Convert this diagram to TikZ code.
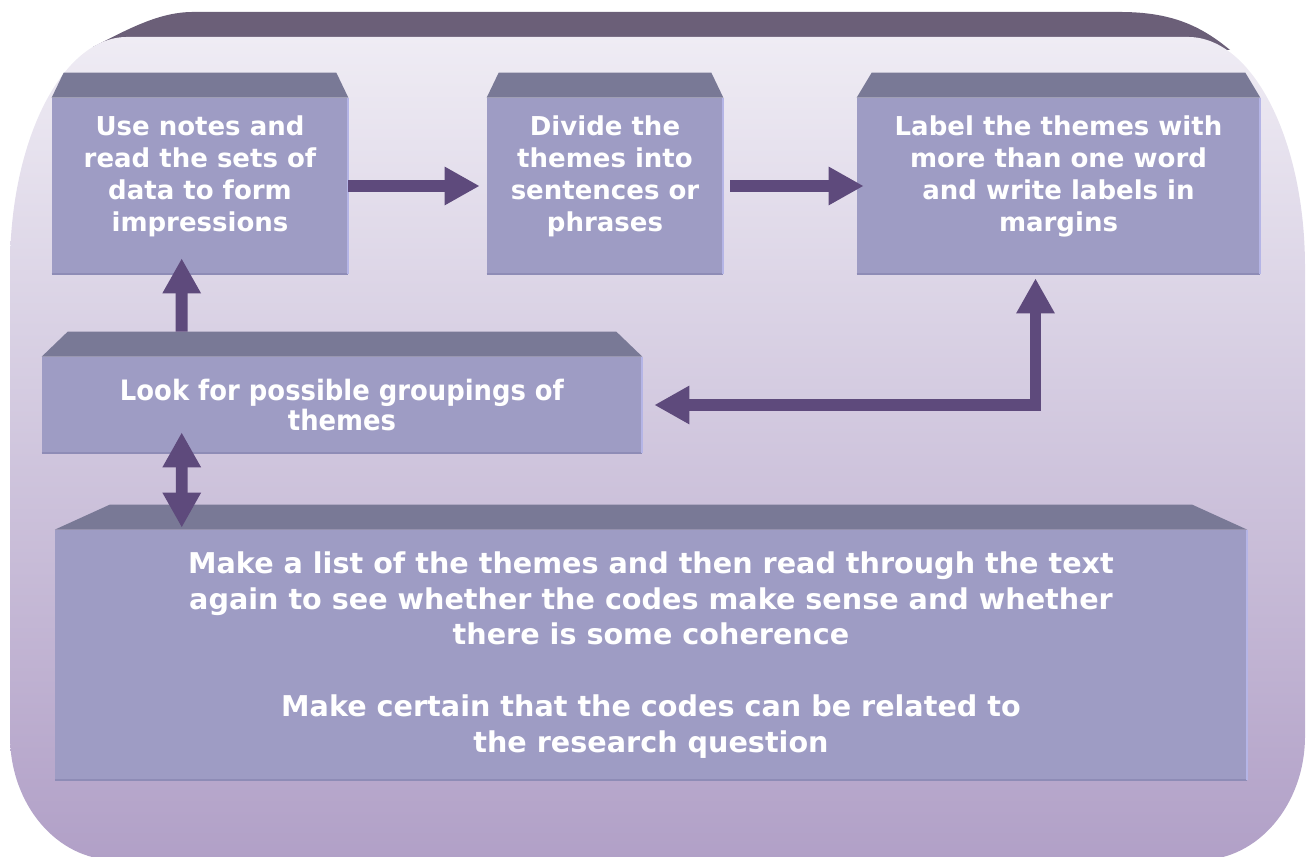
\documentclass[tikz,border=0pt]{standalone}
\usepackage{fontspec}
\setmainfont{DejaVu Sans}
\newfontfamily\narrowfont{DejaVu Sans}[FakeStretch=0.92]
\usetikzlibrary{positioning,calc,arrows.meta}

\definecolor{bandcol}{HTML}{6B5F78}
\definecolor{facecol}{HTML}{9E9CC4}
\definecolor{bevelcol}{HTML}{797996}
\definecolor{arrowcol}{HTML}{5E4A7C}
\definecolor{rimcol}{HTML}{B5B5E6}
\definecolor{shadecol}{HTML}{8E8CB6}
\definecolor{toptint}{HTML}{EFECF4}
\definecolor{midtint}{HTML}{DCD4E6}
\definecolor{bottint}{HTML}{B1A0C7}

\tikzset{
  face/.style={fill=facecol, inner sep=0pt, text=white, align=center},
  txt/.style={text=white, font=\bfseries\fontsize{14.8}{18.1}\selectfont, align=center, inner sep=0pt},
  flow/.style={draw=arrowcol, line width=6.8pt, -{Triangle[length=0.7cm,width=0.72cm]}},
  flowboth/.style={flow, {Triangle[length=0.7cm,width=0.72cm]}-{Triangle[length=0.7cm,width=0.72cm]}},
}

% slanted top face and edges of a box
\newcommand\bevelon[2]{%
  \fill[bevelcol] (#1.north west) -- ++(#2,25) -- ($(#1.north east)+(-#2,25)$) -- (#1.north east) -- cycle;
  \draw[shadecol, line width=1.2pt] (#1.south west) -- (#1.south east);
  \draw[rimcol, line width=1.2pt] (#1.north east) -- (#1.south east);
}

\begin{document}
\begin{tikzpicture}[x=0.02cm,y=0.02cm]
  \useasboundingbox (0,0) rectangle (1311,857);

  % frame
  \fill[bandcol] (93,810) .. controls (130,829) and (160,845) .. (193,845)
    -- (1120,845) .. controls (1170,845) and (1200,832) .. (1230,807) -- cycle;
  \shade[top color=toptint, middle color=midtint, bottom color=bottint]
    (10,590) arc[start angle=180, end angle=90, x radius=117, y radius=230]
    -- (1188,820) arc[start angle=90, end angle=0, x radius=117, y radius=230]
    -- (1305,121) arc[start angle=0, end angle=-90, x radius=105, y radius=124]
    -- (115,-3) arc[start angle=270, end angle=180, x radius=105, y radius=124]
    -- cycle;

  % boxes
  \node[face, minimum width=5.92cm, minimum height=3.52cm] (use) at (200,671) {};
  \node[face, minimum width=4.72cm, minimum height=3.52cm] (divide) at (605,671) {};
  \node[face, minimum width=8.06cm, minimum height=3.52cm] (label) at (1058.5,671) {};
  \node[face, minimum width=12cm, minimum height=1.92cm,
        font=\narrowfont\bfseries\fontsize{16}{17.6}\selectfont] (look) at (342,452)
    {Look for possible groupings of\\themes};
  \node[face, minimum width=23.84cm, minimum height=5cm,
        font=\bfseries\fontsize{16.3}{20.4}\selectfont] (make) at (651,202)
    {Make a list of the themes and then read through the text\\
     again to see whether the codes make sense and whether\\
     there is some coherence\\[20.4pt]
     Make certain that the codes can be related to\\
     the research question};

  \bevelon{use}{12}
  \bevelon{divide}{12}
  \bevelon{label}{15}
  \bevelon{look}{26}
  \bevelon{make}{55}

  \node[txt, below=0.36cm of use.north] (usetext)
    {Use notes and\\read the sets of\\data to form\\impressions};
  \node[txt, below=0.36cm of divide.north] (dividetext)
    {Divide the\\themes into\\sentences or\\phrases};
  \node[txt, below=0.36cm of label.north] (labeltext)
    {Label the themes with\\more than one word\\and write labels in\\margins};

  % arrows
  \draw[flow] (use.east) -- ([xshift=-0.14cm]divide.west);
  \draw[flow] ([xshift=0.14cm]divide.east) -- ([xshift=0.14cm]label.west);
  \draw[flow] ([shift={(140,25)}]look.north west) -- ([shift={(130,16)}]use.south west);
  \draw[flowboth] ([xshift=0.24cm]look.east) -| ([shift={(-23,-4)}]label.south);
  \draw[flowboth] ([shift={(140,21)}]look.south west) -- ([shift={(127,2)}]make.north west);
\end{tikzpicture}
\end{document}
